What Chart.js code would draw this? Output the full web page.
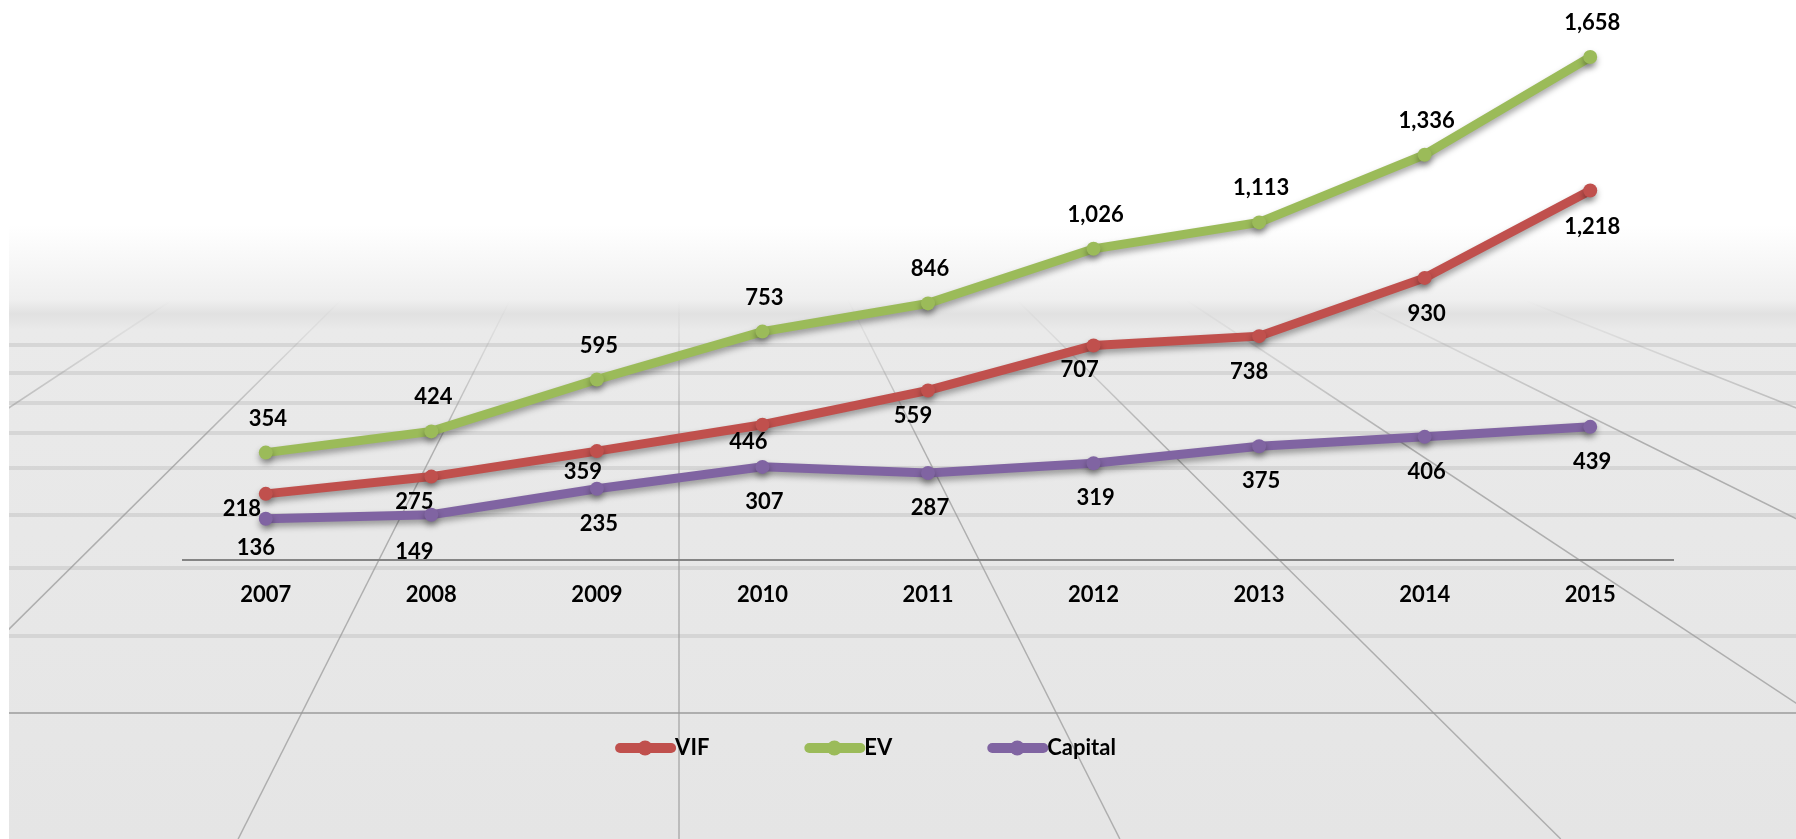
<!DOCTYPE html>
<html>
<head>
<meta charset="utf-8">
<script src="https://cdn.jsdelivr.net/npm/chart.js@4.4.0/dist/chart.umd.min.js"></script>
<style>
    html, body { margin: 0; padding: 0; background: #fff; }
    canvas { display: block; }
</style>
</head>
<body>
<canvas id="chart" width="1796" height="839"></canvas>
<script>
const years = ["2007", "2008", "2009", "2010", "2011", "2012", "2013", "2014", "2015"];
const vif = [218, 275, 359, 446, 559, 707, 738, 930, 1218];
const ev = [354, 424, 595, 753, 846, 1026, 1113, 1336, 1658];
const capital = [136, 149, 235, 307, 287, 319, 375, 406, 439];

const seriesColors = ["#c0504d", "#9bbb59", "#8064a2"];

// where each value label sits relative to its point (px)
const vifLabelShift = [[-24, 15], [-17, 25], [-14, 21], [-14, 17], [-15, 25], [-14, 24], [-10, 36], [2, 36], [2, 36]];
const evLabelShift = years.map(() => [2, -34]);
const capitalLabelShift = [[-10, 29], [-17, 37], [2, 35], [2, 35], [2, 35], [2, 35], [2, 35], [2, 35], [2, 35]];

Chart.defaults.font.family = "Lato, 'Open Sans', sans-serif";

// floor backdrop: white sky fading into grey tiles
const backdrop = {
    id: "backdrop",
    beforeDraw(chart) {
        const { ctx, width, height } = chart;
        ctx.save();
        ctx.fillStyle = "#fff";
        ctx.fillRect(0, 0, width, height);

        const g = ctx.createLinearGradient(0, 0, 0, height);
        g.addColorStop(0, "#ffffff");
        g.addColorStop(225 / height, "#ffffff");
        g.addColorStop(300 / height, "#efefef");
        g.addColorStop(314 / height, "#e1e1e1");
        g.addColorStop(330 / height, "#eaeaea");
        g.addColorStop(1, "#e5e5e5");
        ctx.fillStyle = g;
        ctx.fillRect(9, 0, width - 9, height);

        ctx.beginPath();
        ctx.rect(9, 0, width - 9, height);
        ctx.clip();

        // horizontal tile seams
        [345, 373, 403, 433, 468, 515, 568, 636].forEach(y => {
            ctx.strokeStyle = "rgba(190,190,190,0.45)";
            ctx.lineWidth = 4;
            ctx.beginPath();
            ctx.moveTo(0, y);
            ctx.lineTo(width, y);
            ctx.stroke();
        });
        ctx.strokeStyle = "rgba(160,160,160,0.8)";
        ctx.lineWidth = 2;
        ctx.beginPath();
        ctx.moveTo(0, 713);
        ctx.lineTo(width, 713);
        ctx.stroke();

        // perspective seams running to a vanishing point
        const vx = 679, vy = -35;
        const lg = ctx.createLinearGradient(0, 300, 0, 440);
        lg.addColorStop(0, "rgba(150,150,150,0)");
        lg.addColorStop(1, "rgba(150,150,150,0.7)");
        ctx.strokeStyle = lg;
        ctx.lineWidth = 1.5;
        for (let k = -4; k <= 5; k++) {
            const x530 = vx + 285 * k;
            const s = (x530 - vx) / (530 - vy);
            ctx.beginPath();
            ctx.moveTo(vx + s * (300 - vy), 300);
            ctx.lineTo(vx + s * (height - vy), height);
            ctx.stroke();
        }
        ctx.restore();
    }
};

const lineShadow = {
    id: "lineShadow",
    beforeDatasetsDraw(chart) {
        const c = chart.ctx;
        c.save();
        c.shadowColor = "rgba(0,0,0,0.35)";
        c.shadowBlur = 6;
        c.shadowOffsetY = 4;
    },
    afterDatasetsDraw(chart) {
        chart.ctx.restore();
    }
};

const valueLabels = {
    id: "valueLabels",
    afterDraw(chart) {
        const ctx = chart.ctx;
        ctx.save();
        ctx.font = "bold 22px Lato, 'Open Sans', sans-serif";
        ctx.fillStyle = "#000";
        ctx.textAlign = "center";
        ctx.textBaseline = "middle";
        chart.data.datasets.forEach((ds, di) => {
            chart.getDatasetMeta(di).data.forEach((pt, i) => {
                const [dx, dy] = ds.labelShift[i];
                ctx.fillText(ds.data[i].toLocaleString("en-US"), pt.x + dx, pt.y + dy);
            });
        });
        ctx.restore();
    }
};

// legend marker: thick line with a dot in the middle
const legendMarks = {
    id: "legendMarks",
    afterDraw(chart) {
        const ctx = chart.ctx;
        chart.legend.legendHitBoxes.forEach((hb, i) => {
            const color = seriesColors[i];
            const y = hb.top + hb.height / 2;
            ctx.save();
            ctx.strokeStyle = color;
            ctx.lineWidth = 10;
            ctx.lineCap = "round";
            ctx.beginPath();
            ctx.moveTo(hb.left + 16, y);
            ctx.lineTo(hb.left + 67, y);
            ctx.stroke();
            ctx.fillStyle = color;
            ctx.beginPath();
            ctx.arc(hb.left + 41, y, 7.5, 0, Math.PI * 2);
            ctx.fill();
            ctx.restore();
        });
    }
};

function series(label, data, color, shift) {
    return {
        label,
        data,
        labelShift: shift,
        borderColor: color,
        backgroundColor: color,
        borderWidth: 9,
        pointRadius: 7,
        pointBorderWidth: 0,
        pointBackgroundColor: color,
        tension: 0
    };
}

new Chart(document.getElementById("chart"), {
    type: "line",
    data: {
        labels: years,
        datasets: [
            series("VIF", vif, seriesColors[0], vifLabelShift),
            series("EV", ev, seriesColors[1], evLabelShift),
            series("Capital", capital, seriesColors[2], capitalLabelShift)
        ]
    },
    options: {
        responsive: false,
        animation: false,
        layout: { padding: { left: 47, right: 123, top: 14, bottom: 70 } },
        scales: {
            x: {
                offset: true,
                grid: { display: false, drawTicks: false },
                border: { display: true, color: "#858585", width: 2 },
                ticks: {
                    color: "#000",
                    font: { size: 22, weight: "bold" },
                    padding: 22,
                    maxRotation: 0
                },
                afterFit(scale) { scale.height = 93; }
            },
            y: {
                min: 0,
                max: 1800,
                grid: { display: false },
                border: { display: false },
                ticks: { display: false },
                afterFit(scale) { scale.width = 136; }
            }
        },
        plugins: {
            tooltip: { enabled: false },
            legend: {
                position: "bottom",
                labels: {
                    color: "#000",
                    font: { size: 22, weight: "bold" },
                    boxWidth: 60,
                    boxHeight: 10,
                    padding: 84,
                    generateLabels(chart) {
                        return Chart.defaults.plugins.legend.labels.generateLabels(chart).map(it => ({
                            ...it,
                            fillStyle: "rgba(0,0,0,0)",
                            strokeStyle: "rgba(0,0,0,0)",
                            lineWidth: 0
                        }));
                    }
                }
            }
        }
    },
    plugins: [backdrop, lineShadow, valueLabels, legendMarks]
});
</script>
</body>
</html>
